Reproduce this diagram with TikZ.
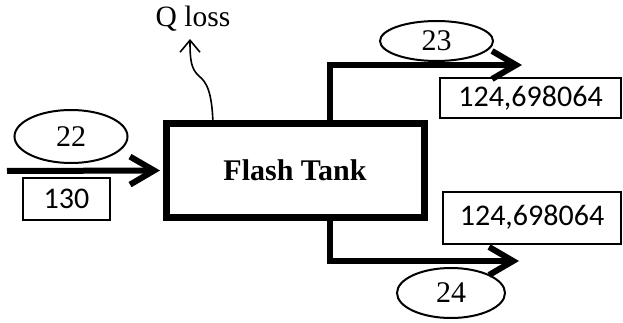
\documentclass[tikz,border=0pt]{standalone}
\usepackage{fontspec}
\setmainfont{Liberation Serif}
\newfontfamily\calibri{Carlito}
\usetikzlibrary{shapes.geometric,arrows.meta,calc}

\begin{document}
\begin{tikzpicture}[x=1pt,y=-1pt,
  stream/.style={ellipse,draw,line width=2pt,inner sep=0pt,font=\fontsize{30}{30}\selectfont},
  value/.style={rectangle,draw,line width=2pt,inner sep=0pt,font=\calibri\fontsize{30}{30}\selectfont},
  pipe/.style={line width=6pt,-{Straight Barb[length=24pt,width=28pt,line width=6pt]}}]
\useasboundingbox (0,0) rectangle (623,323);
\node[draw,line width=7pt,outer sep=0pt,minimum width=258pt,minimum height=93pt,font=\bfseries\fontsize{30}{30}\selectfont] (tank) at (295,170.5) {Flash Tank};
\node[inner sep=0pt,anchor=base,font=\fontsize{29.5}{30}\selectfont] (qloss) at (193,27) {Q loss};
\coordinate (feed) at (7,171);
\coordinate (vapor) at (522,65);
\coordinate (liquid) at (519,261);
\draw[pipe] (feed) -- ([xshift=-6pt]tank.west);
\draw[pipe] ($(tank.north west)+(164,0)$) |- (vapor);
\draw[pipe] ($(tank.south west)+(164,0)$) |- (liquid);
\draw[line width=1.6pt,-{Straight Barb[length=12pt,width=20pt]}] ($(tank.north west)+(47,0)$) .. controls (212,90) and (206,82) .. (199,76) .. controls (191,69) and (190,60) .. ($(qloss.south)+(-3,7)$);
\node[stream,minimum width=113pt,minimum height=53pt] (s22) at (71,136.5) {22};
\node[stream,minimum width=113pt,minimum height=40pt] (s23) at (436.5,41) {23};
\node[stream,minimum width=108pt,minimum height=50pt] (s24) at (451,293) {24};
\node[value,minimum width=87pt,minimum height=42pt] (v22) at (66.5,199) {130};
\node[value,minimum width=181pt,minimum height=40pt] (v23) at (530.5,98) {124,698064};
\node[value,minimum width=178pt,minimum height=52pt] (v24) at (532,217.5) {124,698064};
\end{tikzpicture}
\end{document}
